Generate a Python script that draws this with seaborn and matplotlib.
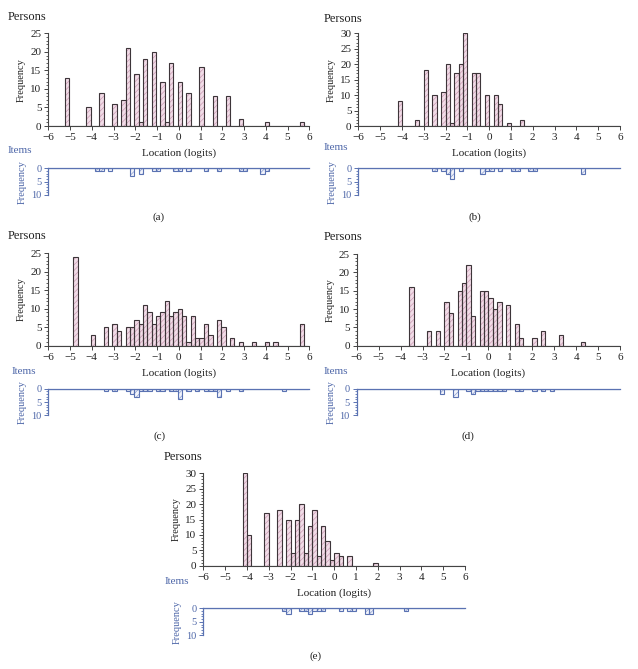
import numpy as np
import pandas as pd
import matplotlib
matplotlib.use("Agg")
import matplotlib.pyplot as plt
import seaborn as sns
from matplotlib.ticker import MultipleLocator

sns.set_style("ticks")
plt.rcParams['font.family'] = ['Liberation Serif', 'DejaVu Serif']
plt.rcParams['hatch.linewidth'] = 0.5

W, H = 638, 669

# ---- data (bin centres in logits, counts) ----
a_person_loc = [-5.15, -4.15, -3.55, -2.95, -2.55, -2.35, -1.95, -1.75, -1.55, -1.15, -0.75,
                -0.55, -0.35, 0.05, 0.45, 1.05, 1.65, 2.25, 2.85, 4.05, 5.65]
a_person_n = [13, 5, 9, 6, 7, 21, 14, 1, 18, 20, 12, 1, 17, 12, 9, 16, 8, 8, 2, 1, 1]
a_item_loc = [-3.75, -3.55, -3.15, -2.15, -1.75, -1.15, -0.95, -0.15, 0.05, 0.45, 1.25,
              1.85, 2.85, 3.05, 3.85, 4.05]
a_item_n = [1, 1, 1, 3, 2, 1, 1, 1, 1, 1, 1, 1, 1, 1, 2, 1]

b_person_loc = [-4.1, -3.3, -2.9, -2.5, -2.1, -1.9, -1.7, -1.5, -1.3, -1.1, -0.7, -0.5,
                -0.1, 0.3, 0.5, 0.9, 1.5]
b_person_n = [8, 2, 18, 10, 11, 20, 1, 17, 20, 30, 17, 17, 10, 10, 7, 1, 2]
b_item_loc = [-2.5, -2.1, -1.9, -1.7, -1.3, -0.3, -0.1, 0.1, 0.5, 1.1, 1.3, 1.9, 2.1, 4.3]
b_item_n = [1, 1, 2, 4, 1, 2, 1, 1, 1, 1, 1, 1, 1, 2]

c_person_loc = [-4.75, -3.95, -3.35, -2.95, -2.75, -2.35, -2.15, -1.95, -1.75, -1.55, -1.35,
                -1.15, -0.95, -0.75, -0.55, -0.35, -0.15, 0.05, 0.25, 0.45, 0.65, 0.85,
                1.05, 1.25, 1.45, 1.85, 2.05, 2.45, 2.85, 3.45, 4.05, 4.45, 5.65]
c_person_n = [24, 3, 5, 6, 4, 5, 5, 7, 6, 11, 9, 6, 8, 9, 12, 8, 9, 10, 8, 1, 8, 2, 2, 6,
              3, 7, 5, 2, 1, 1, 1, 1, 6]
c_item_loc = [-3.35, -2.95, -2.35, -2.15, -1.95, -1.75, -1.55, -1.35, -0.95, -0.75, -0.35,
              -0.15, 0.05, 0.45, 0.85, 1.25, 1.45, 1.65, 1.85, 2.25, 2.85, 4.85]
c_item_n = [1, 1, 1, 2, 3, 1, 1, 1, 1, 1, 1, 1, 4, 1, 1, 1, 1, 1, 3, 1, 1, 1]

d_person_loc = [-3.5, -2.7, -2.3, -1.9, -1.7, -1.3, -1.1, -0.9, -0.7, -0.3, -0.1, 0.1, 0.3,
                0.5, 0.9, 1.3, 1.5, 2.1, 2.5, 3.3, 4.3]
d_person_n = [16, 4, 4, 12, 9, 15, 17, 22, 8, 15, 15, 13, 10, 12, 11, 6, 2, 2, 4, 3, 1]
d_item_loc = [-2.1, -1.5, -0.9, -0.7, -0.5, -0.3, -0.1, 0.1, 0.3, 0.5, 0.7, 1.3, 1.5, 2.1,
              2.5, 2.9]
d_item_n = [2, 3, 1, 2, 1, 1, 1, 1, 1, 1, 1, 1, 1, 1, 1, 1]

e_person_loc = [-4.1, -3.9, -3.1, -2.5, -2.1, -1.9, -1.7, -1.5, -1.3, -1.1, -0.9, -0.7,
                -0.5, -0.3, -0.1, 0.1, 0.3, 0.7, 1.9]
e_person_n = [30, 10, 17, 18, 15, 4, 15, 20, 4, 13, 18, 3, 13, 8, 2, 4, 3, 3, 1]
e_item_loc = [-2.3, -2.1, -1.5, -1.3, -1.1, -0.9, -0.7, -0.5, 0.3, 0.7, 0.9, 1.5, 1.7, 3.3]
e_item_n = [1, 2, 1, 1, 2, 1, 1, 1, 1, 1, 1, 2, 2, 1]

panel_tags = ['(a)', '(b)', '(c)', '(d)', '(e)']
x_ticks = list(range(-6, 7))

pink_face, pink_hatch, dark_edge = '#f1dce7', '#cc9cb5', '#3d3539'
blue_face, blue_hatch, blue_edge = '#f2f4fb', '#8a9dd0', '#5a72b2'
blue_text = '#4d66a8'


def fx(px):
    return px / W


def fy(py):
    return 1 - py / H


def draw_bars(ax, loc, n, shift, face, hatch_col, edge):
    edges = np.round(np.arange(-6 - shift, 6.01 + shift, 0.2), 3).tolist()
    df = pd.DataFrame({'loc': loc, 'n': n})
    sns.histplot(data=df, x='loc', weights='n', bins=edges, ax=ax,
                 facecolor=face, edgecolor=hatch_col, linewidth=0, hatch='//////')
    sns.histplot(data=df, x='loc', weights='n', bins=edges, ax=ax, fill=False,
                 color=edge, linewidth=0.8)


def person_item_map(fig, box, p_loc, p_n, i_loc, i_n, ymax, shift, tag, text_pos):
    left, right, p_top, p_bot, i_top, i_bot = box
    ax_p = fig.add_axes([fx(left), fy(p_bot), fx(right - left), (p_bot - p_top) / H])
    ax_i = fig.add_axes([fx(left), fy(i_bot), fx(right - left), (i_bot - i_top) / H])

    # persons histogram
    draw_bars(ax_p, p_loc, p_n, shift, pink_face, pink_hatch, dark_edge)
    ax_p.set_xlim(-6, 6)
    ax_p.set_ylim(0, ymax)
    ax_p.set_xticks(x_ticks)
    ax_p.set_yticks(range(0, ymax + 1, 5))
    ax_p.yaxis.set_minor_locator(MultipleLocator(1))
    ax_p.tick_params(axis='both', labelsize=8, length=3, width=0.7, pad=2,
                     color='#444444', labelcolor='#222222')
    ax_p.tick_params(axis='y', which='minor', length=1.5, width=0.6, color='#444444')
    for s in ['top', 'right']:
        ax_p.spines[s].set_visible(False)
    for s in ['left', 'bottom']:
        ax_p.spines[s].set_color('#444444')
        ax_p.spines[s].set_linewidth(0.8)
    ax_p.set_ylabel('Frequency', fontsize=7.5, color='#222222', labelpad=3)
    ax_p.set_xlabel('')

    # items histogram, hanging below a zero line
    draw_bars(ax_i, i_loc, i_n, shift, blue_face, blue_hatch, blue_edge)
    ax_i.set_xlim(-6, 6)
    ax_i.set_ylim(10, 0)
    ax_i.set_xticks([])
    ax_i.set_yticks([0, 5, 10])
    ax_i.yaxis.set_minor_locator(MultipleLocator(1))
    ax_i.tick_params(axis='y', labelsize=7.5, length=3, width=0.7, pad=2,
                     color=blue_edge, labelcolor=blue_text)
    ax_i.tick_params(axis='y', which='minor', length=1.5, width=0.6, color=blue_edge)
    for s in ['bottom', 'right']:
        ax_i.spines[s].set_visible(False)
    for s in ['top', 'left']:
        ax_i.spines[s].set_color(blue_edge)
        ax_i.spines[s].set_linewidth(0.9)
    ax_i.set_ylabel('Frequency', fontsize=7.5, color=blue_text, labelpad=3)
    ax_i.set_xlabel('')

    (pers_x, pers_y), (items_x, items_y), loc_y, (tag_x, tag_y) = text_pos
    fig.text(fx(pers_x), fy(pers_y), 'Persons', fontsize=9, color='#222222',
             ha='left', va='center')
    fig.text(fx(items_x), fy(items_y), 'Items', fontsize=8, color=blue_text,
             ha='left', va='center')
    fig.text(fx((left + right) / 2), fy(loc_y), 'Location (logits)', fontsize=8,
             color='#222222', ha='center', va='center')
    fig.text(fx(tag_x), fy(tag_y), tag, fontsize=8, color='#222222',
             ha='center', va='center')


fig = plt.figure(figsize=(W / 100, H / 100), dpi=100)

person_item_map(fig, (48.3, 309.3, 33.3, 126, 168.3, 195), a_person_loc, a_person_n,
                a_item_loc, a_item_n, 25, 0.05, panel_tags[0],
                ((8, 17), (8, 150.5), 153, (159, 217)))
person_item_map(fig, (358.3, 620, 33.3, 126, 168.3, 195), b_person_loc, b_person_n,
                b_item_loc, b_item_n, 30, 0.0, panel_tags[1],
                ((324, 19), (324, 147), 153.3, (475, 217)))
person_item_map(fig, (48.3, 309.3, 253.3, 345.7, 388.7, 415.3), c_person_loc, c_person_n,
                c_item_loc, c_item_n, 25, 0.05, panel_tags[2],
                ((8, 236), (12, 371), 373.3, (160, 436)))
person_item_map(fig, (356.7, 620, 254, 345.7, 388.7, 415.3), d_person_loc, d_person_n,
                d_item_loc, d_item_n, 25, 0.0, panel_tags[3],
                ((324, 237.5), (324, 371), 372.7, (468, 436.5)))
person_item_map(fig, (203.3, 465, 473.3, 565.7, 608.3, 635.3), e_person_loc, e_person_n,
                e_item_loc, e_item_n, 30, 0.0, panel_tags[4],
                ((164, 457.5), (165, 582), 592.7, (316, 656.5)))

fig.savefig('out.png', dpi=100)
